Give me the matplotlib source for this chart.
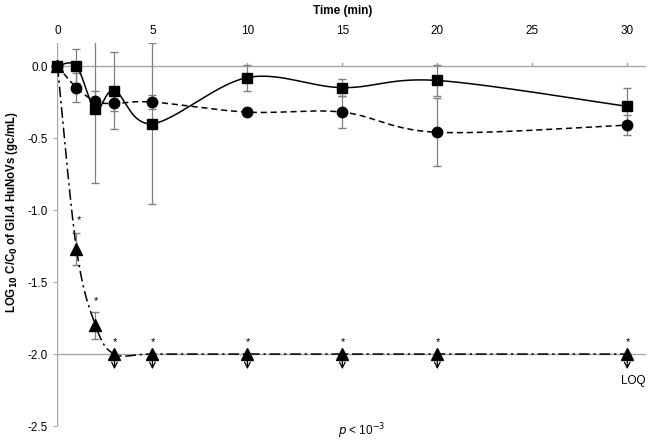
import numpy as np
import matplotlib
matplotlib.use("Agg")
import matplotlib.pyplot as plt

plt.rcParams['font.family'] = ['Liberation Sans', 'DejaVu Sans']

time = [0, 1, 2, 3, 5, 10, 15, 20, 30]
sq_y = [0.0, 0.0, -0.30, -0.17, -0.40, -0.08, -0.15, -0.10, -0.28]
sq_err = [0.0, 0.12, 0.51, 0.27, 0.56, 0.09, 0.06, 0.11, 0.13]
ci_y = [0.0, -0.15, -0.245, -0.26, -0.25, -0.32, -0.32, -0.46, -0.41]
ci_err = [0.0, 0.10, 0.07, 0.05, 0.05, 0.03, 0.11, 0.235, 0.07]
tri_y = [0.0, -1.27, -1.80, -2.0, -2.0, -2.0, -2.0, -2.0, -2.0]
tri_err = [0.0, 0.11, 0.095, 0, 0, 0, 0, 0, 0]
loq = -2.0
below_loq = [3, 5, 10, 15, 20, 30]
star_y = [-1.07, -1.63, -1.92, -1.92, -1.92, -1.92, -1.92, -1.92]
star_x = [1, 2, 3, 5, 10, 15, 20, 30]


def smooth(x, y, n=30):
    # excel-like smoothed line (catmull-rom bezier)
    x = np.asarray(x, float); y = np.asarray(y, float)
    px, py = [], []
    for i in range(len(x) - 1):
        x0, y0 = (x[i-1], y[i-1]) if i > 0 else (x[i], y[i])
        x3, y3 = (x[i+2], y[i+2]) if i + 2 < len(x) else (x[i+1], y[i+1])
        c1x = x[i] + (x[i+1] - x0) / 6; c1y = y[i] + (y[i+1] - y0) / 6
        c2x = x[i+1] - (x3 - x[i]) / 6; c2y = y[i+1] - (y3 - y[i]) / 6
        t = np.linspace(0, 1, n)
        px.extend((1-t)**3*x[i] + 3*(1-t)**2*t*c1x + 3*(1-t)*t**2*c2x + t**3*x[i+1])
        py.extend((1-t)**3*y[i] + 3*(1-t)**2*t*c1y + 3*(1-t)*t**2*c2y + t**3*y[i+1])
    return px, py


fig = plt.figure(figsize=(6.63, 4.48), dpi=100)
ax = fig.add_axes([0.0867, 0.049, 0.888, 0.855])
ax.set_xlim(0, 31)
ax.set_ylim(-2.5, 0.16)
for s in ax.spines.values():
    s.set_visible(False)

grey = '#a6a6a6'
ax.axhline(0, color=grey, lw=1, zorder=1)
ax.axhline(loq, color=grey, lw=1, zorder=1)
ax.axvline(0, color=grey, lw=1, zorder=1)

ebc = '#808080'
ax.errorbar(time, sq_y, yerr=sq_err, fmt='none', ecolor=ebc, elinewidth=0.9, capsize=3, zorder=2)
ax.errorbar(time, ci_y, yerr=ci_err, fmt='none', ecolor=ebc, elinewidth=0.9, capsize=3, zorder=2)
ax.errorbar(time, tri_y, yerr=tri_err, fmt='none', ecolor=ebc, elinewidth=0.9, capsize=3, zorder=2)

sx, sy = smooth(time, sq_y)
ax.plot(sx, sy, color='k', lw=1.1, zorder=3)
cx, cy = smooth(time, ci_y)
ax.plot(cx, cy, color='k', lw=1.1, ls=(0, (4, 2.5)), zorder=3)
tx, ty = smooth(time, tri_y)
ax.plot(tx, ty, color='k', lw=1.1, ls=(0, (7, 2.5, 1.5, 2.5)), zorder=3)

# below-LOQ arrows
for x in below_loq:
    ax.annotate('', xy=(x, loq - 0.105), xytext=(x, loq - 0.02),
                arrowprops=dict(arrowstyle='->', color='k', lw=0.9, mutation_scale=10,
                                shrinkA=0, shrinkB=0),
                zorder=6)
    ax.plot([x - 0.15, x + 0.15], [loq - 0.035, loq - 0.035], color='k', lw=0.9, zorder=6)

ax.plot(time, sq_y, 's', color='k', ms=7.5, zorder=5, clip_on=False)
ax.plot(time, ci_y, 'o', color='k', ms=7.5, zorder=5, clip_on=False)
ax.plot(time, tri_y, '^', color='k', ms=8, zorder=5, clip_on=False)

for x, y in zip(star_x, star_y):
    ax.text(x + (0.15 if x < 2 else 0.03), y, '*', ha='center', va='center', fontsize=8)

ax.xaxis.tick_top()
ax.set_xticks([0, 5, 10, 15, 20, 25, 30])
ax.tick_params(axis='x', length=0, pad=4, labelsize=8.5)
ax.set_yticks([0.0, -0.5, -1.0, -1.5, -2.0, -2.5])
ax.set_yticklabels(['0.0', '-0.5', '-1.0', '-1.5', '-2.0', '-2.5'])
ax.tick_params(axis='y', length=3, color=grey, pad=4, labelsize=8.5)
for x in [5, 10, 15, 20, 25, 30]:
    ax.plot([x, x], [0, 0.022], color=grey, lw=1, zorder=1)

ax.set_xlabel('Time (min)', fontsize=8.5, fontweight='bold')
ax.xaxis.set_label_position('top')
ax.xaxis.set_label_coords(0.485, 1.075)
ax.set_ylabel('LOG$_{\\mathbf{10}}$ C/C$_{\\mathbf{0}}$ of GII.4 HuNoVs (gc/mL)', fontsize=8.3,
              fontweight='bold')
ax.yaxis.set_label_coords(-0.064, 0.559)

ax.text(30.3, -2.19, 'LOQ', ha='center', va='center', fontsize=8.5)
ax.text(16, -2.535, '$\\it{p}$ < 10$^{-3}$', ha='center', va='center', fontsize=8.5, clip_on=False)

fig.savefig('out.png', dpi=100)
